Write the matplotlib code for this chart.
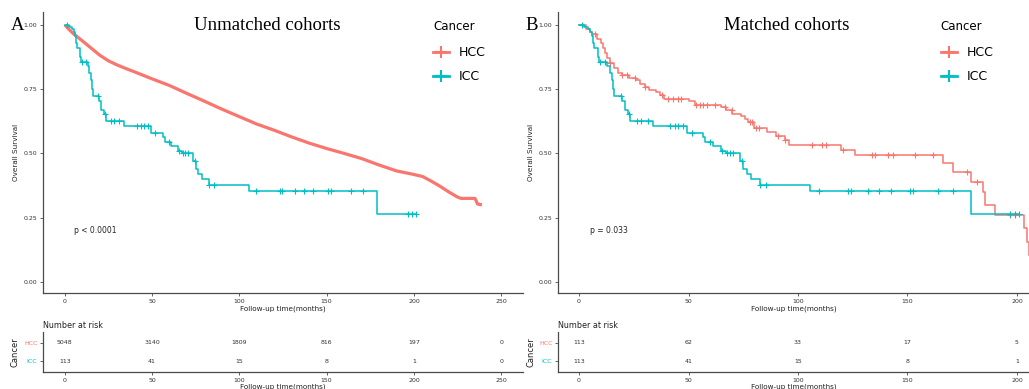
import numpy as np
import matplotlib
matplotlib.use("Agg")
import matplotlib.pyplot as plt
from matplotlib.lines import Line2D

# colours used by ggplot for the two groups
HCC_COL = "#F8766D"
ICC_COL = "#00BFC4"
AX_COL = "#4a4a4a"

# ---- Unmatched cohorts: HCC curve (dense, read every few months) ----
hcc_t = [0, 2, 5, 10, 15, 20, 25, 30, 35, 40, 50, 60, 70, 80, 90, 100, 110, 120,
         130, 140, 150, 160, 170, 180, 190, 195, 200, 205, 210, 215, 220, 225,
         227, 235, 236.5, 239]
hcc_s = [1.0, 0.985, 0.965, 0.938, 0.91, 0.882, 0.86, 0.844, 0.83, 0.817, 0.79,
         0.764, 0.733, 0.703, 0.672, 0.643, 0.614, 0.59, 0.564, 0.54, 0.519, 0.5,
         0.48, 0.455, 0.432, 0.425, 0.418, 0.41, 0.392, 0.372, 0.35, 0.33, 0.325,
         0.325, 0.303, 0.30]

# ---- ICC curve (same in both panels) ----
icc_t = [0, 2.5, 4, 5, 6, 6.5, 7, 8.5, 9, 13, 14, 15, 15.5, 16, 19.5, 21, 22.5,
         23.5, 34, 49.5, 56.5, 57.5, 61, 65, 67, 73.5, 75, 76.5, 78.5, 82.5,
         105.5, 179, 201]
icc_s = [1.0, 0.991, 0.982, 0.973, 0.955, 0.929, 0.91, 0.875, 0.857, 0.839,
         0.812, 0.786, 0.75, 0.723, 0.705, 0.67, 0.652, 0.626, 0.607, 0.58, 0.562,
         0.545, 0.527, 0.509, 0.50, 0.47, 0.44, 0.418, 0.40, 0.377, 0.354, 0.265,
         0.265]
icc_cens = [1.5, 9.6, 12, 19, 22.8, 26.7, 28.3, 31.3, 41.6, 43.8, 45.2, 47.5,
            51.4, 59.8, 65.5, 67.5, 69, 70.5, 74.3, 82.6, 85.3, 109.6, 123, 124.2,
            132, 137, 142.3, 151, 152.5, 164, 171, 196.8, 199, 201]

# ---- Matched cohorts: HCC curve ----
hccm_t = [0, 3, 5, 6, 8, 10, 11, 12, 13, 14, 16, 18, 19.5, 23, 26, 28, 30, 32,
          35, 37, 39, 50, 53, 65, 67, 70, 74, 76, 77, 80, 86, 90, 94, 96, 119.5,
          126, 166, 171, 179, 184.5, 185.5, 190, 203, 204.5, 205.5]
hccm_s = [1.0, 0.982, 0.973, 0.964, 0.946, 0.928, 0.91, 0.89, 0.87, 0.85, 0.832,
          0.814, 0.805, 0.795, 0.786, 0.768, 0.757, 0.748, 0.738, 0.728, 0.713,
          0.702, 0.689, 0.68, 0.668, 0.655, 0.645, 0.632, 0.622, 0.598, 0.582,
          0.567, 0.553, 0.534, 0.514, 0.495, 0.462, 0.428, 0.39, 0.35, 0.30, 0.26,
          0.21, 0.155, 0.105]
hccm_cens = [7.3, 14.2, 19.5, 21.8, 25.6, 30.1, 37.8, 40.8, 43, 45.3, 46.8, 53.5,
             55.3, 56.8, 58.3, 62.1, 66.7, 69.7, 78.1, 79.1, 80.8, 82.2, 91, 94,
             106.2, 110.8, 113, 120.7, 133.6, 135.2, 141.2, 143.5, 153.4, 161.8,
             177, 181.6, 196.8, 199]

# ---- number at risk ----
risk_ticks_a = [0, 50, 100, 150, 200, 250]
risk_hcc_a = [5048, 3140, 1809, 816, 197, 0]
risk_icc_a = [113, 41, 15, 8, 1, 0]
risk_ticks_b = [0, 50, 100, 150, 200]
risk_hcc_b = [113, 62, 33, 17, 5]
risk_icc_b = [113, 41, 15, 8, 1]


def level_at(t, s, times):
    # survival value of a step curve at the given times
    idx = np.searchsorted(np.asarray(t), np.asarray(times), side="right") - 1
    return np.asarray(s)[idx]


def style_axes(ax):
    for side in ["top", "right"]:
        ax.spines[side].set_visible(False)
    for side in ["left", "bottom"]:
        ax.spines[side].set_color(AX_COL)
        ax.spines[side].set_linewidth(0.9)
    ax.tick_params(colors=AX_COL, labelcolor="#333333", length=2, width=0.6,
                   labelsize=4.5, pad=2)


W, H = 1029, 389
fig = plt.figure(figsize=(W / 100, H / 100), dpi=100)


def box(x0, x1, y0, y1):
    return [x0 / W, 1 - y1 / H, (x1 - x0) / W, (y1 - y0) / H]


ax_a = fig.add_axes(box(43, 523, 12, 293))
ax_ar = fig.add_axes(box(43, 523, 332, 372))
ax_b = fig.add_axes(box(558, 1029, 12, 293))
ax_br = fig.add_axes(box(558, 1029, 332, 372))

# panel A curves
ax_a.plot(hcc_t, hcc_s, color=HCC_COL, lw=2.3, solid_capstyle="butt")
ax_a.step(icc_t, icc_s, where="post", color=ICC_COL, lw=1.1)
ax_a.plot(icc_cens, level_at(icc_t, icc_s, icc_cens), "+", color=ICC_COL,
          ms=4, mew=0.8)
ax_a.set_xlim(-12.5, 262.5)
ax_a.text(5, 0.2, "p < 0.0001", fontsize=5.5, color="#222222", va="center")

# panel B curves
ax_b.step(hccm_t, hccm_s, where="post", color=HCC_COL, lw=1.1)
ax_b.plot(hccm_cens, level_at(hccm_t, hccm_s, hccm_cens), "+", color=HCC_COL,
          ms=4, mew=0.8)
ax_b.step(icc_t, icc_s, where="post", color=ICC_COL, lw=1.1)
ax_b.plot(icc_cens, level_at(icc_t, icc_s, icc_cens), "+", color=ICC_COL,
          ms=4, mew=0.8)
ax_b.set_xlim(-9.6, 205.5)
ax_b.text(5, 0.2, "p = 0.033", fontsize=5.5, color="#222222", va="center")

for ax, ticks in [(ax_a, risk_ticks_a), (ax_b, risk_ticks_b)]:
    style_axes(ax)
    ax.set_ylim(-0.043, 1.05)
    ax.set_yticks([0, 0.25, 0.5, 0.75, 1.0])
    ax.set_yticklabels(["0.00", "0.25", "0.50", "0.75", "1.00"])
    ax.set_xticks(ticks)
    ax.set_xlabel("Follow-up time(months)", fontsize=5.2, labelpad=1.5,
                  color="#222222")
    ax.set_ylabel("Overall Survival", fontsize=5.2, color="#222222")
    ax.yaxis.set_label_coords(-0.05, 0.5)
    handles = [Line2D([], [], color=HCC_COL, lw=2, marker="+", ms=8, mew=1.5),
               Line2D([], [], color=ICC_COL, lw=2, marker="+", ms=8, mew=1.5)]
    leg = ax.legend(handles, ["HCC", "ICC"], title="Cancer", frameon=False,
                    loc="upper left", bbox_to_anchor=(0.789, 1.01),
                    fontsize=9, title_fontsize=8.5, handlelength=1.3,
                    handletextpad=0.8, labelspacing=0.9)
    leg._legend_box.align = "left"
    leg._legend_box.sep = 9

# risk tables
for ax, ticks, rh, ri, xlim in [(ax_ar, risk_ticks_a, risk_hcc_a, risk_icc_a, (-12.5, 262.5)),
                                (ax_br, risk_ticks_b, risk_hcc_b, risk_icc_b, (-9.6, 205.5))]:
    style_axes(ax)
    ax.set_xlim(*xlim)
    ax.set_ylim(0.4, 2.6)
    for x, n in zip(ticks, rh):
        ax.text(x, 2, str(n), ha="center", va="center", fontsize=4.5,
                color="#333333")
    for x, n in zip(ticks, ri):
        ax.text(x, 1, str(n), ha="center", va="center", fontsize=4.5,
                color="#333333")
    ax.set_xticks(ticks)
    ax.set_yticks([2, 1])
    ax.set_yticklabels(["HCC", "ICC"])
    ax.get_yticklabels()[0].set_color(HCC_COL)
    ax.get_yticklabels()[1].set_color(ICC_COL)
    ax.set_ylabel("Cancer", fontsize=6, color="#222222")
    ax.yaxis.set_label_coords(-0.048, 0.5)
    ax.set_xlabel("Follow-up time(months)", fontsize=5.2, labelpad=0.5,
                  color="#222222")
    ax.set_title("Number at risk", fontsize=5.8, loc="left", pad=3,
                 color="#222222")

# panel titles and letters
serif = "Liberation Serif"
fig.text(267 / W, 1 - 25 / H, "Unmatched cohorts", family=serif, fontsize=13.5,
         ha="center", va="center")
fig.text(787 / W, 1 - 25 / H, "Matched cohorts", family=serif, fontsize=13.5,
         ha="center", va="center")
fig.text(18 / W, 1 - 25 / H, "A", family=serif, fontsize=13.5, ha="center",
         va="center")
fig.text(532 / W, 1 - 25 / H, "B", family=serif, fontsize=13.5, ha="center",
         va="center")

fig.savefig("out.png", dpi=100)
